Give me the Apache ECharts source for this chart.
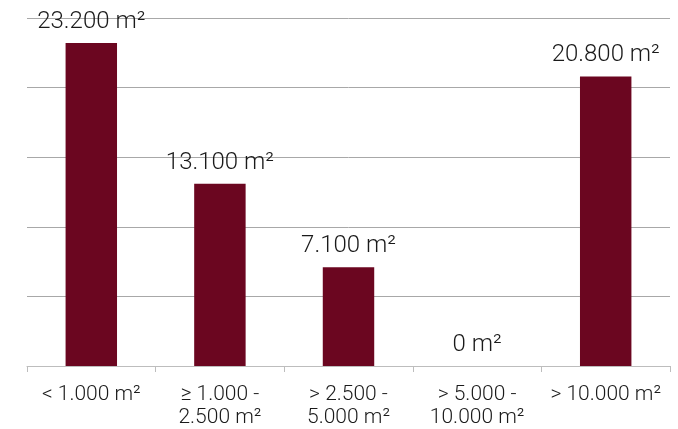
<!DOCTYPE html>
<html>
<head>
<meta charset="utf-8">
<script src="https://cdn.jsdelivr.net/npm/echarts@6/dist/echarts.min.js"></script>
<style>
  html, body { margin: 0; padding: 0; background: #ffffff; }
  #chart { width: 678px; height: 429px; }
</style>
</head>
<body>
<div id="chart"></div>
<script>
// Floor-area size classes and their total areas (m²)
const categories = ['< 1.000 m²', '≥ 1.000 -\n2.500 m²', '> 2.500 -\n5.000 m²', '> 5.000 -\n10.000 m²', '> 10.000 m²'];
const areas = [23200, 13100, 7100, 0, 20800];

// Value axis range (labels hidden, only gridlines shown)
const yMin = 0;
const yMax = 25000;
const yStep = 5000;

const fontFamily = 'Roboto, "Liberation Sans", sans-serif';

function formatArea(v) {
  return String(v).replace(/\B(?=(\d{3})+(?!\d))/g, '.') + ' m²';
}

const chart = echarts.init(document.getElementById('chart'), null, { renderer: 'canvas' });
chart.setOption({
  animation: false,
  backgroundColor: '#ffffff',
  grid: { left: 27, right: 8, top: 18, bottom: 61, containLabel: false },
  xAxis: {
    type: 'category',
    data: categories,
    boundaryGap: true,
    axisLine: { lineStyle: { color: '#bdbdbd', width: 1 } },
    axisTick: { show: true, length: 6, lineStyle: { color: '#bdbdbd' } },
    axisLabel: {
      color: '#1a1a1a',
      fontFamily: fontFamily,
      fontWeight: 300,
      fontSize: 21,
      lineHeight: 23,
      margin: 17,
      interval: 0
    }
  },
  yAxis: {
    type: 'value',
    min: yMin,
    max: yMax,
    interval: yStep,
    axisLine: { show: false },
    axisTick: { show: false },
    axisLabel: { show: false },
    splitLine: { show: true, lineStyle: { color: '#a8a8a8', width: 1 } }
  },
  series: [{
    type: 'bar',
    data: areas,
    barWidth: '40%',
    itemStyle: { color: '#6b0620' },
    label: {
      show: true,
      position: 'top',
      distance: 9,
      color: '#1a1a1a',
      fontFamily: fontFamily,
      fontWeight: 300,
      fontSize: 24,
      formatter: p => formatArea(p.value)
    }
  }]
});
</script>
</body>
</html>
